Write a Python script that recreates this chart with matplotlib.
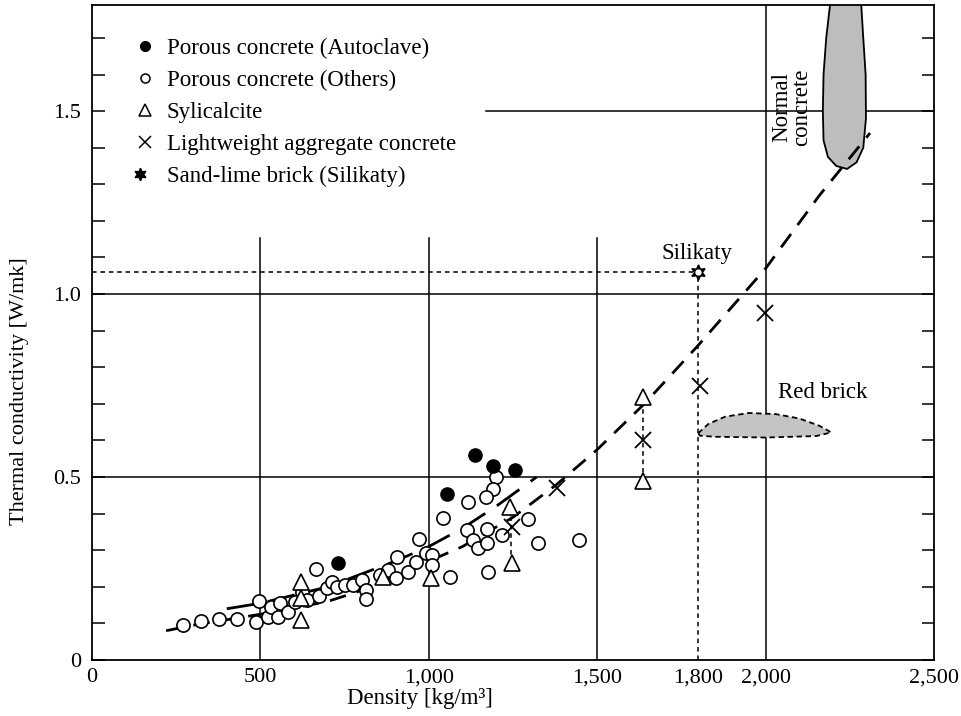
import matplotlib
matplotlib.use("Agg")
import matplotlib.pyplot as plt
from matplotlib.lines import Line2D
from matplotlib.patches import Polygon
from matplotlib.legend_handler import HandlerTuple

plt.rcParams['font.family'] = ['Liberation Serif', 'DejaVu Serif']

# ---------------- data ----------------
autoclave_density = [730, 1054, 1137, 1191, 1256]
autoclave_k = [0.265, 0.454, 0.56, 0.53, 0.519]

others_density = [270, 324, 377, 431, 487, 496, 523, 531, 552, 558, 582, 603, 624, 638,
                  665, 674, 698, 713, 727, 751, 775, 802, 814, 814, 855, 879, 906, 903,
                  938, 962, 971, 992, 1200, 1191, 1170, 1116, 1042, 1295, 1324, 1446,
                  1217, 1173, 1113, 1131, 1146, 1173, 1063, 1176, 1009, 1009]
others_k = [0.096, 0.107, 0.112, 0.112, 0.104, 0.161, 0.117, 0.145, 0.117, 0.156, 0.131,
            0.158, 0.186, 0.164, 0.249, 0.175, 0.197, 0.213, 0.200, 0.205, 0.205, 0.219,
            0.191, 0.167, 0.232, 0.246, 0.281, 0.224, 0.240, 0.268, 0.331, 0.292, 0.500,
            0.467, 0.445, 0.432, 0.388, 0.385, 0.320, 0.328, 0.342, 0.358, 0.355, 0.328,
            0.306, 0.320, 0.227, 0.240, 0.287, 0.260]

sylicalcite_density = [620, 620, 620, 865, 1007, 1241, 1247, 1636, 1636]
sylicalcite_k = [0.213, 0.170, 0.109, 0.227, 0.224, 0.418, 0.265, 0.719, 0.490]

lwa_density = [1247, 1381, 1636, 1805, 1998]
lwa_k = [0.363, 0.470, 0.600, 0.750, 0.948]

silikaty_density = [1800]
silikaty_k = [1.06]

# range bars (density, k_low, k_high)
range_density = [1243, 1636]
range_low = [0.265, 0.490]
range_high = [0.418, 0.719]

# fitted curves
main_curve_x = [220, 300, 500, 700, 800, 900, 1000, 1100, 1250, 1380, 1500, 1640, 1800,
                2000, 2160, 2310]
main_curve_y = [0.080, 0.095, 0.125, 0.160, 0.190, 0.230, 0.270, 0.310, 0.390, 0.480,
                0.575, 0.700, 0.860, 1.070, 1.270, 1.440]
upper_curve_x = [400, 500, 700, 900, 1000, 1100, 1200, 1320]
upper_curve_y = [0.140, 0.155, 0.200, 0.270, 0.310, 0.360, 0.420, 0.500]

# regions
normal_concrete_x = [2195, 2180, 2172, 2170, 2172, 2185, 2210, 2242, 2270, 2290, 2298,
                     2297, 2290, 2282]
normal_concrete_y = [1.82, 1.70, 1.60, 1.50, 1.42, 1.375, 1.35, 1.342, 1.36, 1.40, 1.48,
                     1.60, 1.70, 1.82]
red_brick_x = [1800, 1830, 1880, 1950, 2030, 2100, 2160, 2195, 2150, 2000, 1850, 1805]
red_brick_y = [0.620, 0.645, 0.665, 0.675, 0.672, 0.660, 0.640, 0.622, 0.612, 0.608,
               0.610, 0.613]

x_ticks = [0, 500, 1000, 1500, 1800, 2000, 2500]
x_tick_labels = ["0", "500", "1,000", "1,500", "1,800", "2,000", "2,500"]
y_ticks = [0, 0.5, 1.0, 1.5]
y_tick_labels = ["0", "0.5", "1.0", "1.5"]

FS = 16.5

# ---------------- figure ----------------
fig = plt.figure(figsize=(9.62, 7.16), dpi=100)
ax = fig.add_axes([92 / 962, 56 / 716, 842 / 962, 655 / 716])
ax.set_xlim(0, 2500)
ax.set_ylim(0, 1.79)

# partial grid lines
for xv in [500, 1000, 1500]:
    ax.plot([xv, xv], [0, 1.153], color='black', lw=1.1, zorder=1)
ax.plot([2000, 2000], [0, 1.79], color='black', lw=1.1, zorder=1)
ax.plot([0, 2500], [0.5, 0.5], color='black', lw=1.1, zorder=1)
ax.plot([0, 2500], [1.0, 1.0], color='black', lw=1.1, zorder=1)
ax.plot([1170, 2500], [1.5, 1.5], color='black', lw=1.1, zorder=1)

# regions
ax.add_patch(Polygon(list(zip(normal_concrete_x, normal_concrete_y)), closed=True,
                     facecolor='#bdbdbd', edgecolor='black', lw=1.3, zorder=2))
ax.add_patch(Polygon(list(zip(red_brick_x, red_brick_y)), closed=True,
                     facecolor='#c4c4c4', edgecolor='black', lw=1.3, ls=(0, (3, 2)),
                     zorder=2))

# silikaty guide lines
ax.plot([0, silikaty_density[0]], [silikaty_k[0], silikaty_k[0]], color='black',
        lw=1.1, ls=(0, (3, 2.5)), zorder=2)
ax.plot([silikaty_density[0], silikaty_density[0]], [0, silikaty_k[0]], color='black',
        lw=1.1, ls=(0, (3, 2.5)), zorder=2)
for d, lo, hi in zip(range_density, range_low, range_high):
    ax.plot([d, d], [lo, hi], color='black', lw=1.1, ls=(0, (3, 2.5)), zorder=2)

# curves
ax.plot(main_curve_x, main_curve_y, color='black', lw=2.0, ls=(0, (6, 4)), zorder=3)
ax.plot(upper_curve_x, upper_curve_y, color='black', lw=2.0, ls=(0, (10, 5)), zorder=3)

# points
ax.plot(others_density, others_k, ls='none', marker='o', ms=9.5, mfc='white',
        mec='black', mew=1.2, zorder=4)
ax.plot(autoclave_density, autoclave_k, ls='none', marker='o', ms=9.5, mfc='black',
        mec='black', zorder=5)
ax.plot(sylicalcite_density, sylicalcite_k, ls='none', marker='^', ms=11, mfc='white',
        mec='black', mew=1.2, zorder=5)
ax.plot(lwa_density, lwa_k, ls='none', marker='x', ms=11, mec='black', mew=1.3, zorder=5)
ax.plot(silikaty_density, silikaty_k, ls='none', marker=(6, 1, 0), ms=11, mfc='black',
        mec='black', zorder=6)
ax.plot(silikaty_density, silikaty_k, ls='none', marker='o', ms=3.5, mfc='white',
        mec='white', zorder=7)

# texts
ax.text(1796, 1.11, "Silikaty", fontsize=FS, ha='center', va='center')
ax.text(2170, 0.73, "Red brick", fontsize=FS, ha='center', va='center')
ax.text(2078, 1.51, "Normal\nconcrete", fontsize=FS, ha='center', va='center',
        rotation=90, linespacing=0.95)

# legend
h1 = Line2D([], [], ls='none', marker='o', ms=7, mfc='black', mec='black')
h2 = Line2D([], [], ls='none', marker='o', ms=6.5, mfc='white', mec='black', mew=1.1)
h3 = Line2D([], [], ls='none', marker='^', ms=8, mfc='white', mec='black', mew=1.1)
h4 = Line2D([], [], ls='none', marker='x', ms=8, mec='black', mew=1.1)
h5a = Line2D([], [], ls='none', marker=(6, 1, 0), ms=9, mfc='black', mec='black')
h5b = Line2D([], [], ls='none', marker='o', ms=3, mfc='white', mec='white')
ax.legend([h1, h2, h3, h4, (h5a, h5b)],
          ["Porous concrete (Autoclave)", "Porous concrete (Others)", "Sylicalcite",
           "Lightweight aggregate concrete", "Sand-lime brick (Silikaty)"],
          handler_map={tuple: HandlerTuple(ndivide=None, pad=0)},
          loc='upper left', bbox_to_anchor=(0.052, 0.950), frameon=False,
          fontsize=FS, handlelength=0.8, handletextpad=0.55, labelspacing=0.48,
          borderaxespad=0, borderpad=0)

# axes styling
for s in ax.spines.values():
    s.set_linewidth(1.3)
    s.set_color('black')
ax.set_xticks(x_ticks)
ax.set_xticklabels(x_tick_labels, fontsize=16)
ax.tick_params(axis='x', length=0, pad=6)
ax.set_yticks(y_ticks)
ax.set_yticklabels(y_tick_labels, fontsize=16)
ax.set_yticks([i / 10 for i in range(0, 18)], minor=True)
ax.tick_params(axis='y', which='both', direction='in', left=True, right=True,
               length=9, width=1.1)
ax.tick_params(axis='y', which='major', pad=8)

ax.set_xlabel("Density [kg/m³]", fontsize=FS)
ax.xaxis.set_label_coords(0.39, -0.043)
ax.set_ylabel("Thermal conductivity [W/mk]", fontsize=16)
ax.yaxis.set_label_coords(-0.075, 0.41)

fig.savefig("out.png", dpi=100)
